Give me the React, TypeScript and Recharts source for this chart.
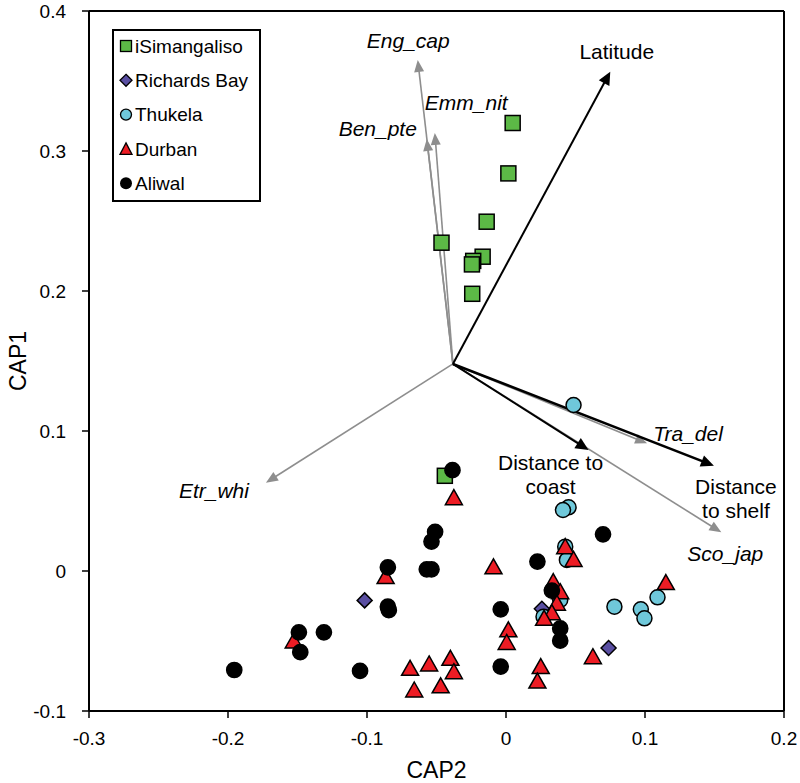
import React from 'react';
import { ScatterChart, Scatter, XAxis, YAxis, ReferenceLine, Legend, Label } from 'recharts';

const FONT = '"Liberation Sans", Arial, Helvetica, sans-serif';

const xTicks = [-0.3, -0.2, -0.1, 0, 0.1, 0.2];
const yTicks = [-0.1, 0, 0.1, 0.2, 0.3, 0.4];

const iSimangalisoPts: number[][] = [
  [0.0048, 0.32], [0.0017, 0.284], [-0.0139, 0.2495], [-0.0464, 0.2345], [-0.0168, 0.2245],
  [-0.0236, 0.2215], [-0.0245, 0.219], [-0.0243, 0.198], [-0.044, 0.068],
];
const richardsBayPts: number[][] = [[-0.1017, -0.021], [0.0258, -0.027], [0.0738, -0.055]];
const thukelaPts: number[][] = [
  [0.0486, 0.1186], [0.045, 0.0455], [0.041, 0.0436], [0.0426, 0.0174], [0.0438, 0.0079],
  [0.078, -0.0255], [0.097, -0.0274], [0.0996, -0.0338], [0.109, -0.0188], [0.039, -0.0207], [0.027, -0.0326],
];
const durbanPts: number[][] = [
  [0.0426, 0.0174], [0.0486, 0.0083], [0.034, -0.0076], [0.039, -0.0148], [0.0366, -0.023],
  [0.033, -0.0298], [0.0274, -0.0338], [0.0625, -0.0612], [0.025, -0.0683], [0.0226, -0.0786],
  [0.115, -0.0083], [-0.0866, -0.004], [-0.009, 0.003], [0.0017, -0.042], [0.0005, -0.051],
  [-0.069, -0.0695], [-0.0553, -0.0664], [-0.04, -0.0624], [-0.0375, -0.0719], [-0.066, -0.085],
  [-0.047, -0.082], [-0.1527, -0.05], [-0.0375, 0.0524],
];
const aliwalPts: number[][] = [
  [-0.0385, 0.072], [-0.051, 0.028], [-0.0536, 0.021], [-0.149, -0.0438], [-0.131, -0.0438],
  [-0.148, -0.058], [-0.1955, -0.0707], [-0.105, -0.0714], [-0.085, 0.0026], [-0.057, 0.0012],
  [-0.0536, 0.0012], [-0.085, -0.0255], [-0.0843, -0.028], [-0.0038, -0.0274], [-0.0038, -0.0683],
  [0.0226, 0.0067], [0.0698, 0.0262], [0.033, -0.014], [0.039, -0.041], [0.039, -0.0498],
];

const vectorOrigin = { x: -0.0382, y: 0.1479 };
const speciesNames = ['Eng_cap', 'Ben_pte', 'Emm_nit', 'Etr_whi', 'Tra_del', 'Sco_jap'];
const speciesX = [-0.0635, -0.057, -0.0512, -0.1727, 0.1015, 0.1549];
const speciesY = [0.365, 0.3086, 0.3129, 0.0631, 0.0912, 0.0276];
const envNames = ['Latitude', 'Distance to coast', 'Distance to shelf'];
const envX = [0.075, 0.0594, 0.1496];
const envY = [0.3566, 0.0864, 0.0752];

const legendNames = ['iSimangaliso', 'Richards Bay', 'Thukela', 'Durban', 'Aliwal'];

const toObj = (a: number[][]) => a.map(([x, y]) => ({ x, y }));

const COLORS = {
  green: '#5cb946',
  purple: '#5a4fa2',
  cyan: '#6fc8da',
  red: '#ed1c24',
  black: '#000000',
  gray: '#8e8e8e',
};

// label placement styling (pixel offsets from arrow tip)
const labelStyles: Record<string, { dx: number; dy: number[]; anchor: string; lines: string[] }> = {
  Eng_cap: { dx: -9.5, dy: [-20], anchor: 'middle', lines: ['Eng_cap'] },
  Ben_pte: { dx: -49, dy: [-11], anchor: 'middle', lines: ['Ben_pte'] },
  Emm_nit: { dx: -10, dy: [-31], anchor: 'start', lines: ['Emm_nit'] },
  Etr_whi: { dx: -17, dy: [8], anchor: 'end', lines: ['Etr_whi'] },
  Tra_del: { dx: 41, dy: [-10], anchor: 'middle', lines: ['Tra_del'] },
  Sco_jap: { dx: 4, dy: [21], anchor: 'middle', lines: ['Sco_jap'] },
  Latitude: { dx: 6.5, dy: [-20], anchor: 'middle', lines: ['Latitude'] },
  'Distance to coast': { dx: -38, dy: [12, 36], anchor: 'middle', lines: ['Distance to', 'coast'] },
  'Distance to shelf': { dx: 22, dy: [21, 45], anchor: 'middle', lines: ['Distance', 'to shelf'] },
};

function makeArrow(name: string, color: string, width: number, headLen: number, headHalf: number, italic: boolean) {
  return (p: any) => {
    const { x1, y1, x2, y2 } = p;
    const dx = x2 - x1;
    const dy = y2 - y1;
    const len = Math.hypot(dx, dy) || 1;
    const ux = dx / len;
    const uy = dy / len;
    const bx = x2 - ux * headLen;
    const by = y2 - uy * headLen;
    const pts = `${x2},${y2} ${bx - uy * headHalf},${by + ux * headHalf} ${bx + uy * headHalf},${by - ux * headHalf}`;
    const st = labelStyles[name];
    return (
      <g>
        <line x1={x1} y1={y1} x2={bx + ux} y2={by + uy} stroke={color} strokeWidth={width} />
        <polygon points={pts} fill={color} />
        {st.lines.map((t, i) => (
          <text
            key={i}
            x={x2 + st.dx}
            y={y2 + st.dy[i]}
            dy="0.36em"
            textAnchor={st.anchor as any}
            fontStyle={italic ? 'italic' : 'normal'}
            fontSize={21}
            fontFamily={FONT}
            fill="#000"
          >
            {t}
          </text>
        ))}
      </g>
    );
  };
}

const SW = 1.5;
const squareShape = (p: any) => (
  <rect x={p.cx - 7.5} y={p.cy - 7.5} width={15} height={15} fill={COLORS.green} stroke="#000" strokeWidth={SW} />
);
const diamondShape = (p: any) => (
  <polygon
    points={`${p.cx},${p.cy - 7.5} ${p.cx + 7.5},${p.cy} ${p.cx},${p.cy + 7.5} ${p.cx - 7.5},${p.cy}`}
    fill={COLORS.purple}
    stroke="#000"
    strokeWidth={SW}
  />
);
const cyanCircle = (p: any) => <circle cx={p.cx} cy={p.cy} r={7.5} fill={COLORS.cyan} stroke="#000" strokeWidth={SW} />;
const blackCircle = (p: any) => <circle cx={p.cx} cy={p.cy} r={7.6} fill="#000" stroke="#000" strokeWidth={SW} />;
const triangleShape = (p: any) => (
  <polygon
    points={`${p.cx},${p.cy - 8} ${p.cx + 8.5},${p.cy + 7} ${p.cx - 8.5},${p.cy + 7}`}
    fill={COLORS.red}
    stroke="#000"
    strokeWidth={SW}
    strokeLinejoin="miter"
  />
);

const legendIcon = (i: number, cx: number, cy: number) => {
  if (i === 0) return <rect x={cx - 5.5} y={cy - 5.5} width={11} height={11} fill={COLORS.green} stroke="#000" strokeWidth={1.3} />;
  if (i === 1)
    return (
      <polygon points={`${cx},${cy - 6} ${cx + 6},${cy} ${cx},${cy + 6} ${cx - 6},${cy}`} fill={COLORS.purple} stroke="#000" strokeWidth={1.3} />
    );
  if (i === 2) return <circle cx={cx} cy={cy} r={5.5} fill={COLORS.cyan} stroke="#000" strokeWidth={1.3} />;
  if (i === 3)
    return (
      <polygon points={`${cx},${cy - 6} ${cx + 6},${cy + 5.5} ${cx - 6},${cy + 5.5}`} fill={COLORS.red} stroke="#000" strokeWidth={1.3} />
    );
  return <circle cx={cx} cy={cy} r={6} fill="#000" />;
};

const LegendBox = () => (
  <svg width={149} height={173} style={{ display: 'block' }}>
    <rect x={1} y={1} width={147} height={171} fill="#fff" stroke="#000" strokeWidth={2} />
    {legendNames.map((n, i) => {
      const cy = 17 + i * 34.3;
      return (
        <g key={n}>
          {legendIcon(i, 14, cy)}
          <text x={23} y={cy} dy="0.36em" fontSize={19} fontFamily={FONT} fill="#000">
            {n}
          </text>
        </g>
      );
    })}
  </svg>
);

const fmt = (v: number) => (Math.abs(v) < 1e-9 ? '0' : String(v));

export default function App() {
  return (
    <div style={{ position: 'absolute', left: 0, top: 0, width: 800, height: 783, background: '#fff' }}>
      <ScatterChart width={800} height={783} margin={{ top: 11, right: 16, bottom: 0, left: 0 }}>
        <XAxis
          type="number"
          dataKey="x"
          domain={[-0.3, 0.2]}
          ticks={xTicks}
          interval={0}
          allowDataOverflow
          tickFormatter={fmt}
          height={72}
          axisLine={{ stroke: '#000', strokeWidth: 2 }}
          tickLine={{ stroke: '#000', strokeWidth: 1.5 }}
          tickSize={7}
          tickMargin={14}
          tick={{ fill: '#000', fontSize: 19, fontFamily: FONT }}
        >
          <Label
            content={(props: any) => {
              const vb = props.viewBox || { x: 89, y: 711, width: 695 };
              return (
                <text x={vb.x + vb.width / 2} y={vb.y + 67} textAnchor="middle" fontSize={23} fontFamily={FONT} fill="#000">
                  CAP2
                </text>
              );
            }}
          />
        </XAxis>
        <YAxis
          type="number"
          dataKey="y"
          domain={[-0.1, 0.4]}
          ticks={yTicks}
          interval={0}
          allowDataOverflow
          tickFormatter={fmt}
          width={89}
          axisLine={{ stroke: '#000', strokeWidth: 2 }}
          tickLine={{ stroke: '#000', strokeWidth: 1.5 }}
          tickSize={7}
          tickMargin={16}
          tick={{ fill: '#000', fontSize: 19, fontFamily: FONT }}
        >
          <Label
            content={(props: any) => {
              const vb = props.viewBox || { x: 0, y: 11, width: 89, height: 700 };
              const x = vb.x + 18;
              const y = vb.y + vb.height / 2;
              return (
                <text x={x} y={y} dy="0.36em" transform={`rotate(-90, ${x}, ${y})`} textAnchor="middle" fontSize={23} fontFamily={FONT} fill="#000">
                  CAP1
                </text>
              );
            }}
          />
        </YAxis>

        {speciesNames.map((n, i) => (
          <ReferenceLine
            key={n}
            segment={[
              { x: vectorOrigin.x, y: vectorOrigin.y },
              { x: speciesX[i], y: speciesY[i] },
            ]}
            ifOverflow="visible"
            shape={makeArrow(n, COLORS.gray, 1.6, 12, 5, true)}
          />
        ))}

        <Scatter data={toObj(richardsBayPts)} shape={diamondShape} isAnimationActive={false} />
        <Scatter data={toObj(iSimangalisoPts)} shape={squareShape} isAnimationActive={false} />
        <Scatter data={toObj(thukelaPts)} shape={cyanCircle} isAnimationActive={false} />
        <Scatter data={toObj(durbanPts)} shape={triangleShape} isAnimationActive={false} />
        <Scatter data={toObj(aliwalPts)} shape={blackCircle} isAnimationActive={false} />

        {envNames.map((n, i) => (
          <ReferenceLine
            key={n}
            segment={[
              { x: vectorOrigin.x, y: vectorOrigin.y },
              { x: envX[i], y: envY[i] },
            ]}
            ifOverflow="visible"
            shape={makeArrow(n, '#000', i === 2 ? 2.6 : 2, 13, 6, false)}
          />
        ))}

        <ReferenceLine y={0.4} stroke="#000" strokeWidth={2} ifOverflow="visible" />
        <ReferenceLine x={0.2} stroke="#000" strokeWidth={2} ifOverflow="visible" />

        <Legend
          layout="horizontal"
          verticalAlign="middle"
          align="center"
          content={LegendBox}
          wrapperStyle={{ left: 112, top: 29, width: 149, height: 173 }}
        />
      </ScatterChart>
    </div>
  );
}
